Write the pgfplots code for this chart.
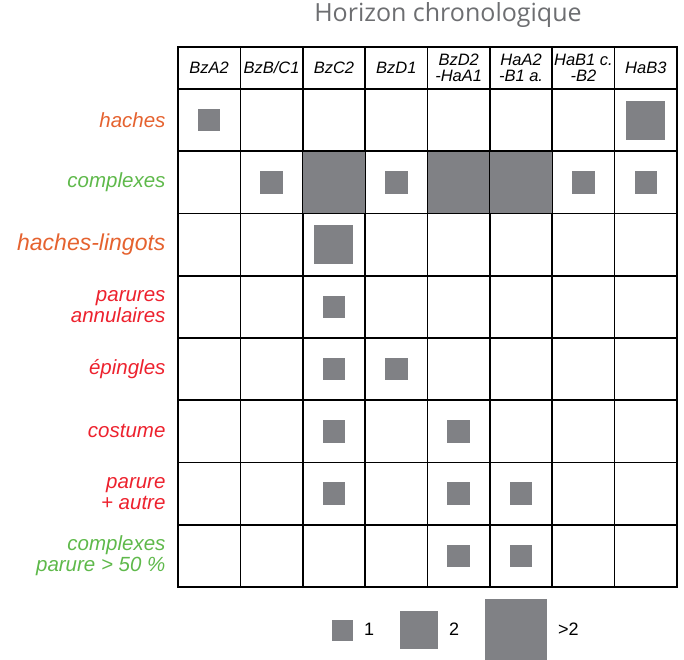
\documentclass[border=0pt]{standalone}
\usepackage{fontspec}
\setmainfont{Liberation Sans}
\newfontfamily\titlefont{Open Sans}
\usepackage{pgfplots}
\pgfplotsset{compat=1.18}
\usepackage{pgfplotstable}
\definecolor{boxgray}{RGB}{128,129,133}
\definecolor{corange}{RGB}{229,98,47}
\definecolor{cgreen}{RGB}{95,185,75}
\definecolor{cred}{RGB}{237,34,46}
\definecolor{ctitle}{RGB}{109,110,113}

% one-object cells (x = column centre, y = row centre)
\pgfplotstableread{
x y
0.5 7.5
1.5 6.5
3.5 6.5
6.5 6.5
7.5 6.5
2.5 4.5
2.5 3.5
3.5 3.5
2.5 2.5
4.5 2.5
2.5 1.5
4.5 1.5
5.5 1.5
4.5 0.5
5.5 0.5
}\sizeone
% two-object cells
\pgfplotstableread{
x y
7.5 7.5
2.5 5.5
}\sizetwo
% more than two objects
\pgfplotstableread{
x y
2.5 6.5
4.5 6.5
5.5 6.5
}\sizebig

\begin{document}
\begin{tikzpicture}
\useasboundingbox (-178pt,-72pt) rectangle (506pt,587pt);
\begin{axis}[
  at={(0,0)}, anchor=south west,
  scale only axis, width=499pt, height=540pt,
  xmin=0, xmax=8, ymin=0, ymax=8.675,
  axis line style={black, line width=1.8pt},
  axis on top,
  xtick={0.5,1.5,...,7.5},
  xticklabels={BzA2, BzB/C1, BzC2, BzD1, {BzD2\\-HaA1}, {HaA2\\-B1 a.}, {HaB1 c.\\-B2}, HaB3},
  xticklabel pos=right,
  xticklabel style={anchor=center, yshift=-21pt, align=center, font=\fontsize{16.5}{16}\selectfont\itshape},
  ytick={0.5,1.5,...,7.5},
  yticklabels={
    {\textcolor{cgreen}{complexes}\\\textcolor{cgreen}{parure > 50 \%}},
    {\textcolor{cred}{parure}\\\textcolor{cred}{+ autre}},
    {\textcolor{cred}{costume}},
    {\textcolor{cred}{épingles}},
    {\textcolor{cred}{parures}\\\textcolor{cred}{annulaires}},
    {\fontsize{23}{23}\selectfont\textcolor{corange}{haches-lingots}},
    {\textcolor{cgreen}{complexes}},
    {\textcolor{corange}{haches}}},
  yticklabel style={align=right, xshift=-9pt, font=\fontsize{20.5}{21}\selectfont\itshape},
  major tick length=0pt, minor tick length=0pt,
  minor xtick={1,...,7}, minor ytick={1,...,8},
  minor grid style={black, line width=1.6pt},
  xminorgrids, yminorgrids,
  title={Horizon chronologique},
  title style={at={(axis description cs:0.541,1)}, anchor=base, yshift=19pt,
    font=\titlefont\fontsize{25}{25}\selectfont, text=ctitle},
  legend style={at={(axis description cs:0.558,0)}, anchor=north, yshift=-12pt,
    draw=none, fill=none, legend columns=-1, inner sep=0pt,
    font=\fontsize{18}{18}\selectfont,
    /tikz/every odd column/.append style={column sep=9pt},
    /tikz/every even column/.append style={column sep=24pt}},
]
\addplot[forget plot, only marks, color=boxgray, mark=square*, mark size=10.75pt,
  mark options={fill=boxgray, draw=boxgray, line width=0pt}] table {\sizeone};
\addplot[forget plot, only marks, color=boxgray, mark=square*, mark size=19pt,
  mark options={fill=boxgray, draw=boxgray, line width=0pt}] table {\sizetwo};
\addplot[forget plot, only marks, color=boxgray, mark=square*, mark size=30.3pt,
  mark options={fill=boxgray, draw=boxgray, line width=0pt}] table {\sizebig};
\addlegendimage{legend image code/.code={\node[fill=boxgray, minimum size=21pt, inner sep=0pt] at (0,0) {};}}
\addlegendentry{1}
\addlegendimage{legend image code/.code={\node[fill=boxgray, minimum size=38pt, inner sep=0pt] at (0,0) {};}}
\addlegendentry{2}
\addlegendimage{legend image code/.code={\node[fill=boxgray, minimum size=62pt, inner sep=0pt] at (0,0) {};}}
\addlegendentry{>2}
\end{axis}
\end{tikzpicture}
\end{document}
